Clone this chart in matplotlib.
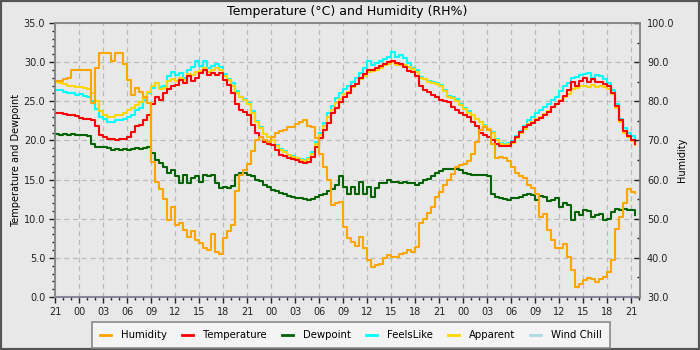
import numpy as np
import matplotlib
matplotlib.use("Agg")
import matplotlib.pyplot as plt
from matplotlib.lines import Line2D
from matplotlib.patches import Rectangle
from matplotlib.ticker import MultipleLocator, FormatStrFormatter, FuncFormatter

# readings every 30 minutes, first one at 21:00
start_hour = 21

temperature = [
    23.5, 23.5, 23.4, 23.3, 23.2, 23.1, 22.9, 22.8, 22.8, 22.6,
    21.8, 20.7, 20.4, 20.2, 20.2, 20.1, 20.2, 20.2, 20.5, 21.1,
    21.8, 22.0, 22.6, 23.2, 24.6, 25.6, 25.2, 26.0, 26.6, 26.9,
    27.1, 27.7, 27.3, 28.2, 27.6, 28.0, 28.6, 29.0, 28.3, 28.6,
    28.4, 28.6, 27.7, 27.1, 26.0, 24.6, 23.9, 23.6, 23.3, 22.0,
    21.0, 20.4, 19.8, 19.6, 19.4, 18.8, 18.2, 18.0, 17.8, 17.6,
    17.5, 17.2, 17.1, 17.3, 17.9, 19.2, 20.3, 21.3, 22.2, 23.5,
    24.2, 24.9, 25.5, 26.1, 26.9, 27.2, 28.0, 28.5, 29.0, 29.0,
    29.3, 29.5, 29.7, 30.0, 30.2, 29.9, 29.8, 29.4, 28.9, 28.7,
    28.2, 26.9, 26.5, 26.2, 25.8, 25.5, 25.2, 25.1, 24.9, 24.3,
    23.9, 23.5, 23.2, 23.0, 22.4, 21.8, 21.0, 20.7, 20.4, 20.0,
    19.6, 19.3, 19.3, 19.3, 19.8, 20.5, 21.1, 21.7, 22.0, 22.2,
    22.6, 22.9, 23.3, 23.6, 24.3, 24.7, 25.0, 25.7, 26.5, 27.5,
    27.0, 27.6, 28.0, 27.4, 27.8, 27.4, 27.5, 27.2, 26.9, 26.0,
    24.4, 22.6, 21.2, 20.6, 20.1, 19.6,
]

feels_like = [
    26.5, 26.4, 26.2, 26.0, 26.0, 25.8, 25.9, 25.7, 25.6, 25.1,
    24.0, 23.0, 22.7, 22.3, 22.4, 22.6, 22.6, 22.8, 23.0, 23.2,
    23.9, 24.2, 25.2, 26.0, 26.7, 27.3, 26.8, 27.0, 28.2, 28.7,
    28.4, 28.6, 28.0, 29.0, 29.4, 30.1, 29.5, 30.1, 29.3, 29.5,
    29.7, 29.4, 28.5, 27.9, 27.3, 26.3, 25.6, 25.3, 24.8, 23.7,
    22.5, 21.7, 20.8, 20.4, 20.1, 19.4, 18.9, 18.6, 18.2, 18.0,
    17.8, 17.6, 17.5, 17.7, 18.5, 19.8, 21.0, 22.2, 23.5, 24.4,
    25.4, 26.0, 26.6, 27.0, 27.5, 28.0, 28.6, 29.2, 30.1, 29.6,
    29.9, 30.2, 30.4, 30.7, 31.3, 30.7, 30.9, 30.5, 29.9, 29.3,
    29.0, 28.1, 27.9, 27.6, 27.5, 27.3, 27.1, 26.5, 25.7, 25.5,
    25.3, 24.7, 24.1, 23.7, 23.3, 22.8, 22.4, 22.0, 21.5, 21.1,
    20.2, 19.7, 19.6, 19.7, 19.9, 20.6, 21.2, 21.9, 22.6, 23.0,
    23.5, 23.9, 24.3, 24.6, 25.2, 25.6, 26.3, 27.0, 27.3, 28.0,
    28.1, 28.3, 28.5, 28.6, 28.0, 28.3, 28.2, 27.9, 27.3, 26.4,
    24.6, 22.7, 21.6, 21.0, 20.6, 19.9,
]

apparent = [
    27.5, 27.3, 27.2, 27.0, 26.9, 26.8, 26.8, 26.7, 26.6, 26.0,
    25.0, 23.8, 23.3, 23.0, 23.0, 23.2, 23.3, 23.5, 23.9, 24.1,
    24.5, 24.9, 25.4, 26.2, 26.9, 27.3, 26.6, 26.7, 27.6, 27.8,
    27.6, 28.0, 27.7, 28.5, 28.4, 28.8, 28.9, 29.3, 28.8, 29.0,
    29.2, 29.0, 28.2, 27.7, 27.0, 26.1, 25.6, 25.2, 24.6, 23.5,
    22.3, 21.6, 20.8, 20.4, 20.0, 19.3, 18.8, 18.5, 18.1, 17.9,
    17.7, 17.5, 17.4, 17.6, 18.3, 19.6, 20.7, 21.8, 23.0, 23.9,
    24.8, 25.3, 25.9, 26.2, 26.8, 27.2, 27.8, 28.2, 28.8, 28.9,
    29.0, 29.3, 29.6, 29.8, 30.0, 29.6, 29.6, 29.6, 29.4, 29.1,
    28.8, 28.0, 27.8, 27.5, 27.3, 27.2, 26.9, 26.3, 25.6, 25.4,
    25.1, 24.5, 24.0, 23.5, 23.2, 22.8, 22.3, 21.9, 21.5, 21.0,
    20.1, 19.6, 19.4, 19.5, 19.7, 20.3, 20.9, 21.5, 22.1, 22.4,
    22.7, 23.0, 23.4, 23.8, 24.3, 24.7, 25.2, 25.5, 25.9, 26.6,
    26.7, 26.9, 27.0, 26.8, 27.1, 26.8, 27.0, 26.8, 26.6, 25.9,
    24.2, 22.4, 21.0, 20.4, 19.9, 19.4,
]

dewpoint = [
    20.8, 20.7, 20.8, 20.7, 20.8, 20.7, 20.7, 20.7, 20.6, 19.5,
    19.2, 19.1, 19.1, 19.0, 18.8, 18.9, 18.8, 18.9, 18.8, 18.9,
    19.0, 18.9, 19.0, 19.1, 18.4, 17.5, 17.1, 16.6, 15.8, 16.2,
    15.4, 14.5, 15.6, 14.5, 15.2, 15.4, 14.7, 15.6, 15.4, 15.6,
    14.5, 13.9, 14.1, 13.9, 14.2, 15.6, 15.8, 15.8, 15.6, 15.4,
    15.0, 14.8, 14.3, 14.0, 13.7, 13.5, 13.3, 13.1, 12.9, 12.8,
    12.7, 12.6, 12.5, 12.4, 12.5, 12.8, 13.0, 13.2, 13.5, 13.8,
    14.3, 15.4, 14.0, 13.2, 14.1, 13.2, 14.7, 13.2, 14.1, 12.8,
    13.9, 14.5, 14.6, 14.9, 14.7, 14.7, 14.6, 14.7, 14.6, 14.5,
    14.3, 14.5, 14.9, 15.1, 15.5, 15.9, 16.1, 16.3, 16.4, 16.4,
    16.3, 16.2, 15.8, 15.7, 15.6, 15.6, 15.6, 15.6, 15.4, 13.2,
    12.8, 12.6, 12.5, 12.4, 12.6, 12.6, 12.8, 13.0, 13.2, 13.0,
    12.4, 12.9, 12.8, 12.2, 12.4, 12.6, 11.5, 12.0, 11.7, 9.8,
    10.8, 10.5, 11.1, 11.0, 10.2, 10.5, 10.6, 9.8, 10.0, 10.9,
    11.3, 11.1, 11.2, 11.1, 11.1, 10.5,
]

humidity = [
    85.3, 85.3, 85.6, 86.0, 88.0, 88.0, 88.0, 88.0, 88.0, 79.5,
    88.5, 92.3, 92.3, 92.3, 90.2, 92.3, 92.3, 89.5, 85.5, 81.5,
    83.4, 82.4, 81.1, 79.5, 64.5, 59.5, 57.5, 55.0, 49.6, 53.0,
    48.5, 49.0, 47.0, 45.4, 46.8, 44.5, 43.7, 42.5, 41.9, 46.2,
    41.5, 41.1, 45.0, 46.8, 48.5, 57.0, 61.2, 62.4, 64.1, 67.3,
    70.2, 70.8, 70.0, 69.7, 70.8, 71.8, 72.3, 72.7, 73.4, 73.5,
    74.2, 74.8, 75.2, 73.8, 73.5, 70.5, 66.5, 63.3, 60.0, 53.5,
    53.9, 54.3, 47.8, 45.0, 44.0, 43.0, 45.4, 42.5, 39.5, 37.7,
    38.1, 38.5, 40.0, 40.7, 40.2, 40.2, 41.0, 41.3, 41.9, 41.5,
    42.8, 48.8, 50.0, 51.5, 53.0, 55.6, 56.9, 58.5, 59.8, 61.5,
    63.3, 63.7, 64.0, 64.8, 66.5, 69.5, 72.7, 73.5, 72.7, 69.0,
    65.5, 65.8, 65.4, 64.8, 63.3, 61.8, 60.8, 60.3, 58.5, 57.8,
    56.2, 50.5, 51.3, 47.1, 44.5, 42.5, 42.5, 43.5, 40.2, 36.8,
    32.6, 33.4, 34.3, 34.8, 34.5, 33.8, 34.7, 35.1, 36.5, 39.5,
    47.5, 50.5, 54.0, 57.5, 56.9, 56.5,
]

# wind chill is reported as 0 for the whole period
wind_chill = [0.0] * len(temperature)

hours = np.arange(len(temperature)) * 0.5

fig = plt.figure(figsize=(7, 3.5), dpi=100, facecolor='#e8e8e8')
ax = fig.add_axes([55 / 700, 53 / 350, 585 / 700, 274 / 350])
ax.set_facecolor('#e8e8e8')
ax2 = ax.twinx()

lw = 1.5
ax.plot(hours, feels_like, color='cyan', lw=lw, drawstyle='steps-post', zorder=2)
ax.plot(hours, apparent, color='gold', lw=lw, drawstyle='steps-post', zorder=3)
ax.plot(hours, dewpoint, color='darkgreen', lw=lw, drawstyle='steps-post', zorder=4)
ax.plot(hours, temperature, color='red', lw=lw, drawstyle='steps-post', zorder=4)
ax.plot(hours, wind_chill, color='#8888ee', lw=lw, zorder=6, clip_on=False)
ax2.plot(hours, humidity, color='orange', lw=lw, drawstyle='steps-post')

ax.set_xlim(0, 73.1)
ax.set_ylim(0, 35)
ax2.set_ylim(30, 100)

ax.xaxis.set_major_locator(MultipleLocator(3))
ax.xaxis.set_minor_locator(MultipleLocator(1))
ax.xaxis.set_major_formatter(FuncFormatter(lambda v, p: "%02d" % ((start_hour + round(v)) % 24)))
ax.yaxis.set_major_locator(MultipleLocator(5))
ax.yaxis.set_minor_locator(MultipleLocator(1))
ax.yaxis.set_major_formatter(FormatStrFormatter('%.1f'))
ax2.yaxis.set_major_locator(MultipleLocator(10))
ax2.yaxis.set_minor_locator(MultipleLocator(5))
ax2.yaxis.set_major_formatter(FormatStrFormatter('%.1f'))

ax.tick_params(which='major', length=4, width=1, labelsize=7, pad=3, colors='#222222')
ax.tick_params(which='minor', length=2.5, width=1, colors='#222222')
ax2.tick_params(axis='y', which='major', direction='in', length=4, width=1,
                labelsize=7, pad=5, colors='#222222')
ax2.tick_params(axis='y', which='minor', direction='in', length=2.5, width=1, colors='#222222')

ax.grid(True, which='major', color='#bbbbbb', linestyle=(0, (4, 3)), lw=0.9)
for a in (ax, ax2):
    for s in a.spines.values():
        s.set_color('#888888')
        s.set_linewidth(1.2)

ax.set_ylabel("Temperature and Dewpoint", fontsize=7, labelpad=2)
ax2.set_ylabel("Humidity", fontsize=7, labelpad=2)
ax.set_title("Temperature (°C) and Humidity (RH%)", fontsize=9, pad=6)

handles = [
    Line2D([], [], color='orange', lw=2),
    Line2D([], [], color='red', lw=2),
    Line2D([], [], color='darkgreen', lw=2),
    Line2D([], [], color='cyan', lw=2),
    Line2D([], [], color='gold', lw=2),
    Line2D([], [], color='lightblue', lw=2),
]
labels = ["Humidity", "Temperature", "Dewpoint", "FeelsLike", "Apparent", "Wind Chill"]
leg = fig.legend(handles, labels, loc='upper center', bbox_to_anchor=(351 / 700, 1 - 322 / 350),
                 ncol=6, fontsize=7.3, frameon=True, fancybox=False, edgecolor='#888888',
                 facecolor='#f4f4f4', framealpha=1, handlelength=1.1, handletextpad=1.0,
                 columnspacing=1.45, borderpad=0.8, borderaxespad=0)
leg.get_frame().set_linewidth(1.2)

fig.patches.append(Rectangle((0, 0), 1, 1, transform=fig.transFigure, fill=False,
                             edgecolor='#555555', lw=3))

fig.savefig("out.png", dpi=100, facecolor=fig.get_facecolor())
